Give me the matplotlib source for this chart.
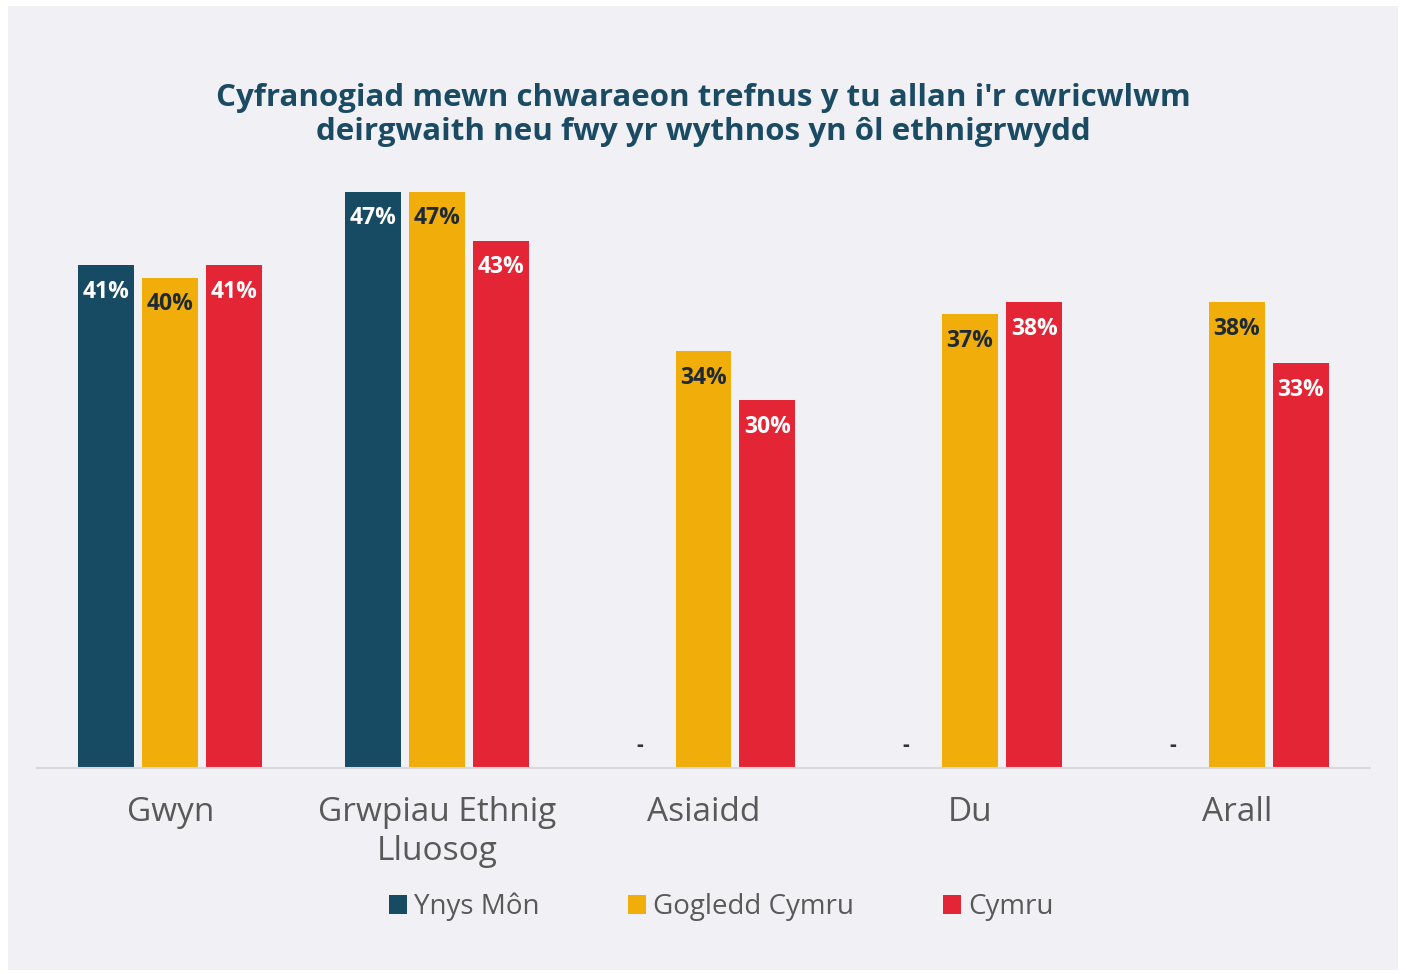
import matplotlib.pyplot as plt
import numpy as np
from matplotlib.patches import Rectangle

# data
categories = ["Gwyn", "Grwpiau Ethnig\nLluosog", "Asiaidd", "Du", "Arall"]
series_names = ["Ynys Môn", "Gogledd Cymru", "Cymru"]
ynys_mon = [41, 47, None, None, None]
gogledd_cymru = [40, 47, 34, 37, 38]
cymru = [41, 43, 30, 38, 33]

title = ("Cyfranogiad mewn chwaraeon trefnus y tu allan i'r cwricwlwm\n"
         "deirgwaith neu fwy yr wythnos yn ôl ethnigrwydd")

colors = ["#174A63", "#F1AE0A", "#E42535"]
label_colors = ["white", "#1E2A33", "white"]
FONT = ["Open Sans", "DejaVu Sans"]


def main():
    fig = plt.figure(figsize=(14.06, 9.74), dpi=100)
    fig.patch.set_facecolor("white")
    fig.patches.append(Rectangle((8 / 1406, 4 / 974), 1390 / 1406, 964 / 974,
                                 transform=fig.transFigure, facecolor="#F1F1F5",
                                 edgecolor="none", zorder=-10))

    ax = fig.add_axes([37 / 1406, 1 - 768 / 974, 1333 / 1406, 613 / 974])
    ax.set_facecolor("none")

    x = np.arange(len(categories))
    width = 0.21
    step = 0.24
    for i, (name, vals) in enumerate(zip(series_names,
                                         [ynys_mon, gogledd_cymru, cymru])):
        pos = x + (i - 1) * step
        for xp, v in zip(pos, vals):
            if v is None:
                ax.annotate("-", (xp, 0), xytext=(0, 16), textcoords="offset points",
                            ha="center", va="center", fontsize=15,
                            fontweight="bold", color="#333333", family=FONT)
                continue
            ax.bar(xp, v, width=width, color=colors[i], zorder=2)
            ax.annotate(f"{v}%", (xp, v), xytext=(0, -19),
                        textcoords="offset points", ha="center", va="center",
                        fontsize=16.5, fontweight="bold", color=label_colors[i],
                        family=FONT, zorder=3)
        ax.bar(0, 0, width=0, color=colors[i], label=name)

    ax.set_xlim(-0.5, 4.5)
    ax.set_ylim(0, 50)
    ax.set_yticks([])
    ax.set_xticks(x)
    ax.set_xticklabels(categories, fontsize=24, color="#595959", family=FONT,
                       linespacing=1.25)
    ax.tick_params(axis="x", length=0, pad=20)
    for s in ["top", "right", "left"]:
        ax.spines[s].set_visible(False)
    ax.spines["bottom"].set_color("#D9D9D9")
    ax.spines["bottom"].set_linewidth(1.5)

    fig.text(0.5, 1 - 115 / 974, title, ha="center", va="center", fontsize=22.5,
             fontweight="bold", color="#1B4A63", family=FONT, linespacing=1.2)

    leg = fig.legend(loc="center", bbox_to_anchor=(0.513, 1 - 907 / 974), ncol=3,
                     frameon=False, handlelength=0.65, handleheight=0.65,
                     handletextpad=0.25, columnspacing=3.2,
                     prop={"family": FONT, "size": 20})
    for t in leg.get_texts():
        t.set_color("#595959")

    fig.savefig("out.png", dpi=100)


if __name__ == "__main__":
    main()
